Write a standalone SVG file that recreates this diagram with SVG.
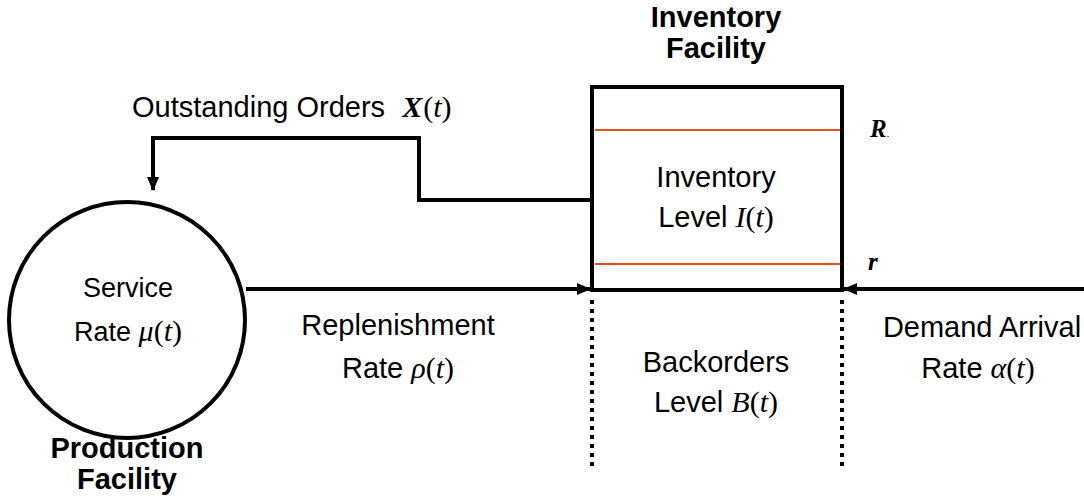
<svg xmlns="http://www.w3.org/2000/svg" width="1084" height="500" viewBox="0 0 1084 500">
  <style>
    .lbl { font-family: "Liberation Sans", Arial, sans-serif; font-size: 29px; fill: #000; text-anchor: middle; }
    .sm { font-size: 27px; }
    .ttl { font-family: "Liberation Sans", Arial, sans-serif; font-size: 29px; font-weight: bold; fill: #000; text-anchor: middle; }
    .start { text-anchor: start; }
    .m { font-family: "Liberation Serif", "Times New Roman", serif; font-style: italic; font-size: 30px; }
    .mu { font-family: "Liberation Serif", "Times New Roman", serif; font-style: normal; font-size: 30px; }
    .mb { font-family: "Liberation Serif", "Times New Roman", serif; font-style: italic; font-weight: bold; font-size: 30px; }
    .edge { fill: none; stroke: #000; stroke-width: 4; }
    .dots { fill: none; stroke: #000; stroke-width: 4; stroke-dasharray: 4 5; }
    .lvl { stroke: #e2521c; stroke-width: 2; }
  </style>
  <defs>
    <marker id="arrow" viewBox="0 0 14 12" refX="13" refY="6" markerWidth="14" markerHeight="12" markerUnits="userSpaceOnUse" orient="auto">
      <path d="M0,0 L14,6 L0,12 Z" fill="#000"/>
    </marker>
  </defs>

  <rect width="1084" height="500" fill="#fff"/>

  <!-- Production facility -->
  <g id="production">
    <circle cx="127" cy="320" r="118" fill="#fff" stroke="#000" stroke-width="4"/>
    <text class="lbl sm" x="128" y="297">Service</text>
    <text class="lbl sm" x="128" y="341">Rate <tspan class="m">μ</tspan><tspan class="mu">(</tspan><tspan class="m">t</tspan><tspan class="mu">)</tspan></text>
    <text class="ttl" x="127" y="458">Production</text>
    <text class="ttl" x="127" y="489">Facility</text>
  </g>

  <!-- Inventory facility -->
  <g id="inventory">
    <text class="ttl" x="716" y="27">Inventory</text>
    <text class="ttl" x="716" y="58">Facility</text>
    <rect x="592" y="87" width="250" height="203" fill="#fff" stroke="#000" stroke-width="4"/>
    <line class="lvl" x1="595" y1="130" x2="840" y2="130"/>
    <line class="lvl" x1="595" y1="264" x2="840" y2="264"/>
    <text class="lbl" x="716" y="187">Inventory</text>
    <text class="lbl" x="716" y="227">Level <tspan class="m">I</tspan><tspan class="mu">(</tspan><tspan class="m">t</tspan><tspan class="mu">)</tspan></text>
    <text class="mb" x="870" y="137" style="font-size:25px">R<tspan style="font-size:10px;font-weight:normal;font-style:normal">.</tspan></text>
    <text class="mb" x="868" y="270" style="font-size:25px">r</text>
  </g>

  <!-- Backorder region below the inventory box -->
  <g id="backorders">
    <line class="dots" x1="592" y1="300" x2="592" y2="466"/>
    <line class="dots" x1="842" y1="300" x2="842" y2="466"/>
    <text class="lbl" x="716" y="372">Backorders</text>
    <text class="lbl" x="716" y="412">Level <tspan class="m">B</tspan><tspan class="mu">(</tspan><tspan class="m">t</tspan><tspan class="mu">)</tspan></text>
  </g>

  <!-- Connectors -->
  <g id="connectors">
    <path class="edge" d="M590,200 H419 V138 H153 V190" marker-end="url(#arrow)"/>
    <path class="edge" d="M246,289 H590" marker-end="url(#arrow)"/>
    <path class="edge" d="M1084,289 H844" marker-end="url(#arrow)"/>
  </g>

  <!-- Flow labels -->
  <g id="labels">
    <text class="lbl start" x="132" y="117">Outstanding Orders <tspan class="mb" dx="9">X</tspan><tspan class="mu" dx="1">(</tspan><tspan class="m">t</tspan><tspan class="mu">)</tspan></text>
    <text class="lbl" x="398" y="335">Replenishment</text>
    <text class="lbl" x="398" y="378">Rate <tspan class="m">ρ</tspan><tspan class="mu">(</tspan><tspan class="m">t</tspan><tspan class="mu">)</tspan></text>
    <text class="lbl" x="982" y="337">Demand Arrival</text>
    <text class="lbl" x="978" y="378">Rate <tspan class="m">α</tspan><tspan class="mu">(</tspan><tspan class="m">t</tspan><tspan class="mu">)</tspan></text>
  </g>
</svg>
